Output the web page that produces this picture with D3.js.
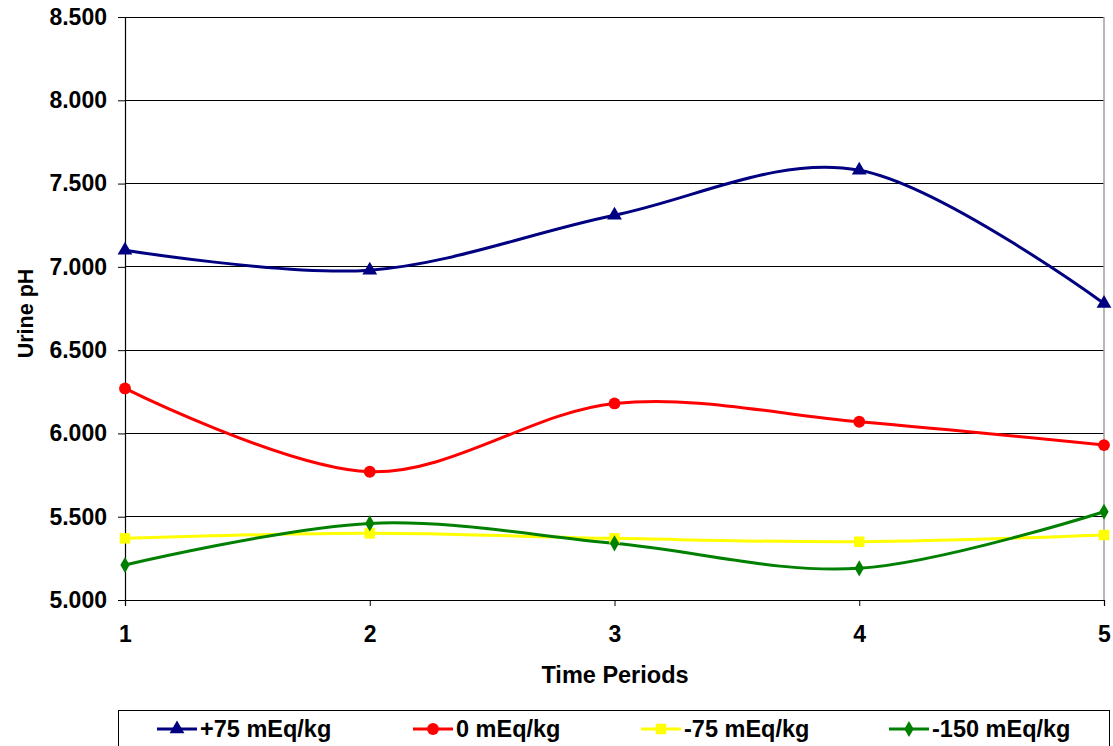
<!DOCTYPE html>
<html>
<head>
<meta charset="utf-8">
<script src="https://cdn.jsdelivr.net/npm/d3@7"></script>
<style>
  body { margin: 0; background: #fff; }
  text { font-family: "Liberation Sans", Arial, sans-serif; font-weight: bold; fill: #000; }
</style>
</head>
<body>
<div id="graph"></div>
<script>
const width = 1113, height = 746;
const margin = {left: 125, right: 9, top: 17, bottom: 146};

// data
const periods = [1, 2, 3, 4, 5];
const seriesNames = ["+75 mEq/kg", "0 mEq/kg", "-75 mEq/kg", "-150 mEq/kg"];
const plus75 = [7.10, 6.98, 7.31, 7.58, 6.78];
const zero = [6.27, 5.77, 6.18, 6.07, 5.93];
const minus75 = [5.37, 5.40, 5.37, 5.35, 5.39];
const minus150 = [5.21, 5.46, 5.34, 5.19, 5.53];
const yTicks = [5.0, 5.5, 6.0, 6.5, 7.0, 7.5, 8.0, 8.5];

const colors = ["#000080", "#ff0000", "#ffff00", "#008000"];
const symbols = [d3.symbolTriangle, d3.symbolCircle, d3.symbolSquare, d3.symbolDiamond];
const symSizes = [95, 110, 110, 75];
const allSeries = [plus75, zero, minus75, minus150];

let svg = d3.select("#graph").append("svg").
attr("width", width).
attr("height", height);

const x = d3.scaleLinear().domain([1, 5]).range([margin.left, width - margin.right]);
const y = d3.scaleLinear().domain([5, 8.5]).range([height - margin.bottom, margin.top]);

// gridlines
svg.append("g").selectAll("line").
data(yTicks.slice(1)).
enter().append("line").
attr("x1", x(1)).attr("x2", x(5)).
attr("y1", d => y(d)).attr("y2", d => y(d)).
attr("stroke", "#000").attr("stroke-width", 1).
attr("shape-rendering", "crispEdges");

// right border of plot area
svg.append("line").
attr("x1", x(5)).attr("x2", x(5)).
attr("y1", y(8.5)).attr("y2", y(5)).
attr("stroke", "#a0a0a0").attr("stroke-width", 1.5);

const yAxis = d3.axisLeft(y).tickValues(yTicks).tickFormat(d3.format(".3f")).tickSize(7).tickPadding(11);
const xAxis = d3.axisBottom(x).tickValues(periods).tickFormat(d3.format("d")).tickSize(6).tickPadding(20);

let gy = svg.append("g").attr("transform", "translate(" + margin.left + ",0)").call(yAxis);
let gx = svg.append("g").attr("transform", "translate(0," + y(5) + ")").call(xAxis);
[gy, gx].forEach(g => {
  g.select(".domain").attr("stroke", "#000").attr("stroke-width", 1.2);
  g.selectAll(".tick line").attr("stroke", "#000");
  g.selectAll("text").style("font-size", "23px").style("font-family", "'Liberation Sans', Arial, sans-serif").
  style("font-weight", "bold").attr("fill", "#000");
});

svg.append("text").
attr("x", 615).attr("y", 683).
attr("text-anchor", "middle").
style("font-size", "23.5px").
text("Time Periods");

svg.append("text").
attr("transform", "translate(33," + (y(6.72)) + ") rotate(-90)").
attr("text-anchor", "middle").
style("font-size", "21.5px").
text("Urine pH");

// lines
const line = d3.line().
x((d, i) => x(periods[i])).
y(d => y(d)).
curve(d3.curveCardinal.tension(0));

allSeries.forEach((s, k) => {
  svg.append("path").
  datum(s).
  attr("d", line).
  attr("fill", "none").
  attr("stroke", colors[k]).
  attr("stroke-width", 3);
});

allSeries.forEach((s, k) => {
  svg.append("g").selectAll("path").
  data(s).
  enter().append("path").
  attr("d", d3.symbol().type(symbols[k]).size(symSizes[k])).
  attr("transform", (d, i) => "translate(" + x(periods[i]) + "," + y(d) + ")").
  attr("fill", colors[k]);
});

// legend
svg.append("rect").
attr("x", 118.5).attr("y", 710.5).
attr("width", 991).attr("height", 50).
attr("fill", "#fff").attr("stroke", "#000").attr("stroke-width", 1);

const legendX = [157, 413, 641, 889];
seriesNames.forEach((name, k) => {
  let g = svg.append("g").attr("transform", "translate(" + legendX[k] + ",729)");
  g.append("line").attr("x1", 0).attr("x2", 40).attr("y1", 0).attr("y2", 0).
  attr("stroke", colors[k]).attr("stroke-width", 3);
  g.append("path").attr("d", d3.symbol().type(symbols[k]).size(symSizes[k])).
  attr("transform", "translate(20,0)").attr("fill", colors[k]);
  g.append("text").attr("x", 43).attr("y", 7.5).style("font-size", "23.5px").text(name);
});
</script>
</body>
</html>
